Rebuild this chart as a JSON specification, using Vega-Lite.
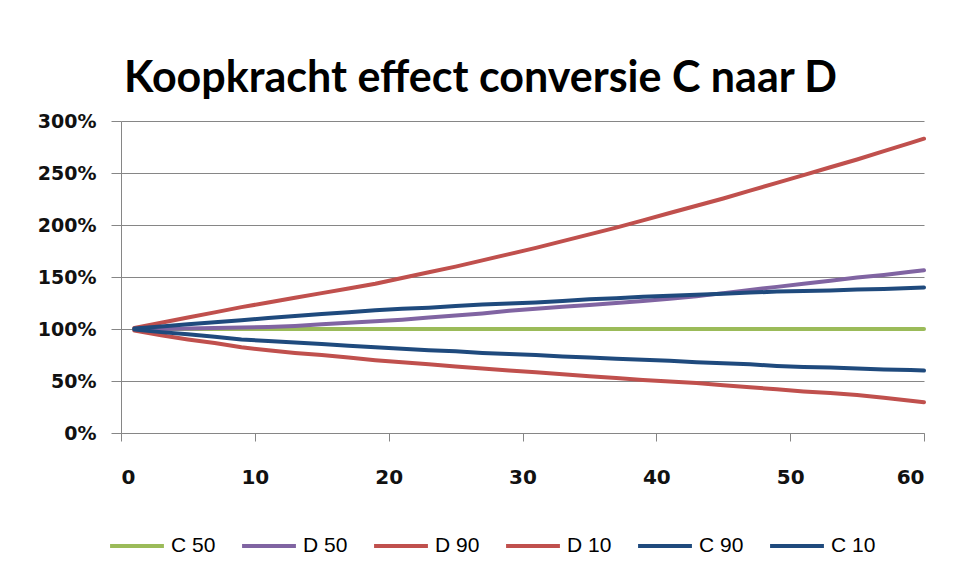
{
  "$schema": "https://vega.github.io/schema/vega-lite/v6.json",
  "autosize": {"type": "none"},
  "width": 803,
  "height": 312,
  "padding": {"left": 121, "top": 121, "right": 32, "bottom": 148},
  "background": "white",
  "title": {
    "text": "Koopkracht effect conversie C naar D",
    "font": "Lato, sans-serif",
    "fontSize": 43,
    "fontWeight": "bold",
    "color": "#000000",
    "anchor": "middle",
    "frame": "group",
    "dx": -42,
    "baseline": "alphabetic",
    "offset": -23
  },
  "data": {
    "values": [
      {"x": 1, "C 50": 1, "D 50": 1.0, "D 90": 1.01, "D 10": 0.985, "C 90": 1.005, "C 10": 0.995},
      {"x": 3, "C 50": 1, "D 50": 1.0, "D 90": 1.06, "D 10": 0.94, "C 90": 1.025, "C 10": 0.97},
      {"x": 5, "C 50": 1, "D 50": 1.005, "D 90": 1.11, "D 10": 0.9, "C 90": 1.045, "C 10": 0.95},
      {"x": 7, "C 50": 1, "D 50": 1.01, "D 90": 1.16, "D 10": 0.865, "C 90": 1.065, "C 10": 0.925},
      {"x": 9, "C 50": 1, "D 50": 1.015, "D 90": 1.21, "D 10": 0.825, "C 90": 1.085, "C 10": 0.9},
      {"x": 11, "C 50": 1, "D 50": 1.02, "D 90": 1.255, "D 10": 0.795, "C 90": 1.105, "C 10": 0.885},
      {"x": 13, "C 50": 1, "D 50": 1.03, "D 90": 1.3, "D 10": 0.77, "C 90": 1.125, "C 10": 0.87},
      {"x": 15, "C 50": 1, "D 50": 1.045, "D 90": 1.345, "D 10": 0.75, "C 90": 1.145, "C 10": 0.855},
      {"x": 17, "C 50": 1, "D 50": 1.06, "D 90": 1.39, "D 10": 0.725, "C 90": 1.16, "C 10": 0.84},
      {"x": 19, "C 50": 1, "D 50": 1.075, "D 90": 1.435, "D 10": 0.7, "C 90": 1.18, "C 10": 0.825},
      {"x": 21, "C 50": 1, "D 50": 1.09, "D 90": 1.49, "D 10": 0.68, "C 90": 1.195, "C 10": 0.81},
      {"x": 23, "C 50": 1, "D 50": 1.11, "D 90": 1.545, "D 10": 0.66, "C 90": 1.205, "C 10": 0.795},
      {"x": 25, "C 50": 1, "D 50": 1.13, "D 90": 1.6, "D 10": 0.64, "C 90": 1.22, "C 10": 0.785},
      {"x": 27, "C 50": 1, "D 50": 1.15, "D 90": 1.66, "D 10": 0.62, "C 90": 1.235, "C 10": 0.77},
      {"x": 29, "C 50": 1, "D 50": 1.175, "D 90": 1.72, "D 10": 0.6, "C 90": 1.245, "C 10": 0.76},
      {"x": 31, "C 50": 1, "D 50": 1.195, "D 90": 1.78, "D 10": 0.585, "C 90": 1.255, "C 10": 0.75},
      {"x": 33, "C 50": 1, "D 50": 1.215, "D 90": 1.845, "D 10": 0.565, "C 90": 1.27, "C 10": 0.735},
      {"x": 35, "C 50": 1, "D 50": 1.23, "D 90": 1.91, "D 10": 0.545, "C 90": 1.285, "C 10": 0.725},
      {"x": 37, "C 50": 1, "D 50": 1.25, "D 90": 1.975, "D 10": 0.53, "C 90": 1.295, "C 10": 0.715},
      {"x": 39, "C 50": 1, "D 50": 1.27, "D 90": 2.045, "D 10": 0.51, "C 90": 1.31, "C 10": 0.705},
      {"x": 41, "C 50": 1, "D 50": 1.29, "D 90": 2.115, "D 10": 0.495, "C 90": 1.32, "C 10": 0.695},
      {"x": 43, "C 50": 1, "D 50": 1.315, "D 90": 2.185, "D 10": 0.48, "C 90": 1.33, "C 10": 0.68},
      {"x": 45, "C 50": 1, "D 50": 1.345, "D 90": 2.255, "D 10": 0.46, "C 90": 1.34, "C 10": 0.67},
      {"x": 47, "C 50": 1, "D 50": 1.375, "D 90": 2.33, "D 10": 0.44, "C 90": 1.35, "C 10": 0.66},
      {"x": 49, "C 50": 1, "D 50": 1.405, "D 90": 2.405, "D 10": 0.42, "C 90": 1.36, "C 10": 0.645},
      {"x": 51, "C 50": 1, "D 50": 1.435, "D 90": 2.48, "D 10": 0.4, "C 90": 1.365, "C 10": 0.635},
      {"x": 53, "C 50": 1, "D 50": 1.465, "D 90": 2.555, "D 10": 0.385, "C 90": 1.37, "C 10": 0.63},
      {"x": 55, "C 50": 1, "D 50": 1.495, "D 90": 2.63, "D 10": 0.365, "C 90": 1.38, "C 10": 0.62},
      {"x": 57, "C 50": 1, "D 50": 1.52, "D 90": 2.71, "D 10": 0.34, "C 90": 1.385, "C 10": 0.61},
      {"x": 59, "C 50": 1, "D 50": 1.55, "D 90": 2.79, "D 10": 0.31, "C 90": 1.395, "C 10": 0.605},
      {"x": 60, "C 50": 1, "D 50": 1.565, "D 90": 2.83, "D 10": 0.295, "C 90": 1.4, "C 10": 0.6}
    ]
  },
  "transform": [
    {"fold": ["C 50", "D 50", "D 90", "D 10", "C 90", "C 10"], "as": ["serie", "waarde"]}
  ],
  "mark": {"type": "line", "strokeWidth": 4, "strokeCap": "round", "strokeJoin": "round"},
  "encoding": {
    "x": {
      "field": "x",
      "type": "quantitative",
      "scale": {"domain": [0, 60], "nice": false, "zero": false},
      "axis": {
        "title": null,
        "values": [0, 10, 20, 30, 40, 50, 60],
        "grid": false,
        "tickSize": 8,
        "labelPadding": 26,
        "labelFontSize": 20
      }
    },
    "y": {
      "field": "waarde",
      "type": "quantitative",
      "scale": {"domain": [0, 3], "nice": false},
      "axis": {
        "title": null,
        "values": [0, 0.5, 1, 1.5, 2, 2.5, 3],
        "format": ".0%",
        "grid": true,
        "tickSize": 10,
        "labelPadding": 15,
        "labelFontSize": 19
      }
    },
    "color": {
      "field": "serie",
      "type": "nominal",
      "sort": ["C 50", "D 50", "D 90", "D 10", "C 90", "C 10"],
      "scale": {
        "domain": ["C 50", "D 50", "D 90", "D 10", "C 90", "C 10"],
        "range": ["#9BBB59", "#8064A2", "#C0504D", "#C0504D", "#1F4A7D", "#1F4A7D"]
      },
      "legend": {
        "title": null,
        "orient": "none",
        "direction": "horizontal",
        "columns": 6,
        "legendX": -13,
        "legendY": 396,
        "symbolType": "stroke",
        "symbolSize": 2900,
        "symbolStrokeWidth": 4,
        "labelFont": "Liberation Sans, sans-serif",
        "labelFontSize": 21,
        "labelColor": "#000000",
        "labelOffset": 5,
        "columnPadding": 18,
        "labelLimit": 200
      }
    }
  },
  "config": {
    "view": {"stroke": null},
    "axis": {
      "labelFont": "DejaVu Sans, sans-serif",
      "labelFontWeight": "bold",
      "labelColor": "#111111",
      "domainColor": "#868686",
      "domainWidth": 1,
      "tickColor": "#868686",
      "tickWidth": 1,
      "gridColor": "#868686",
      "gridWidth": 1,
      "gridOpacity": 1
    }
  }
}
